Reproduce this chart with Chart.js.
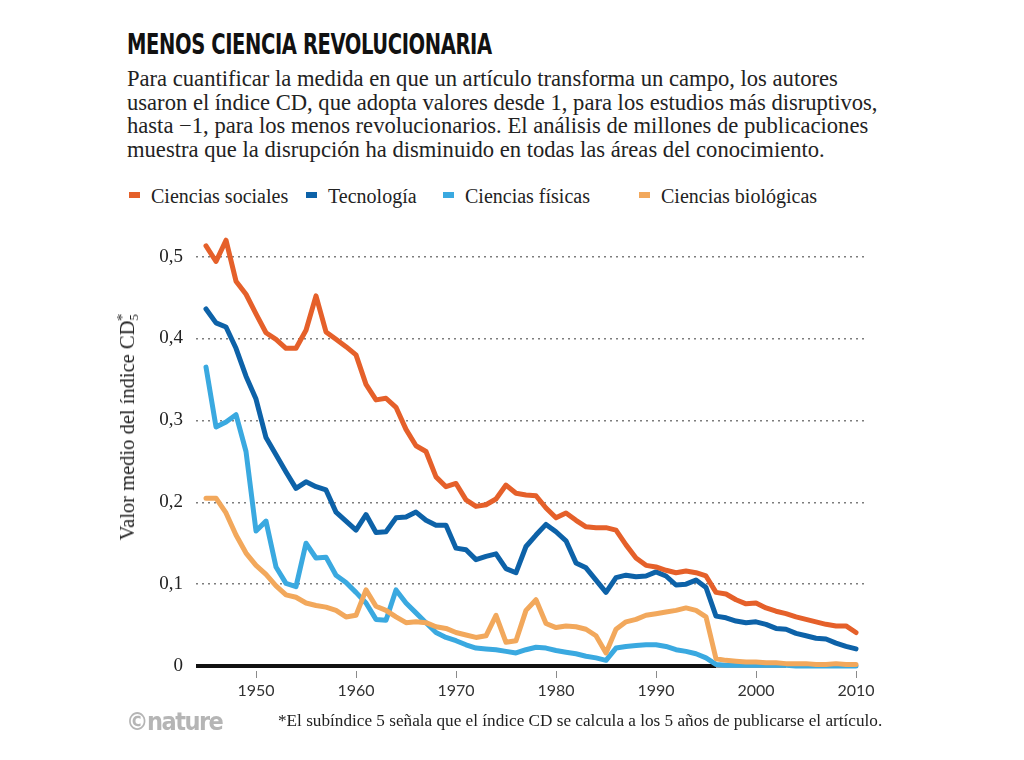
<!DOCTYPE html>
<html lang="es">
<head>
<meta charset="utf-8">
<script src="https://cdn.jsdelivr.net/npm/chart.js@4"></script>
<style>
  html, body { margin: 0; padding: 0; background: #fff; }
  body { width: 1024px; height: 760px; position: relative; overflow: hidden; }
  #chart { position: absolute; left: 0; top: 0; }
  .title {
    position: absolute; left: 127px; top: 28px;
    font-family: "DejaVu Sans Condensed", "DejaVu Sans", sans-serif;
    font-stretch: condensed; font-weight: bold; font-size: 28px; color: #111;
    letter-spacing: -0.5px; white-space: nowrap;
    transform: scaleX(0.775); transform-origin: 0 0;
  }
  .sub {
    position: absolute; left: 127px; top: 67px;
    font-family: "Liberation Serif", "DejaVu Serif", serif;
    font-size: 22.6px; line-height: 23.5px; color: #222; white-space: nowrap;
  }
  .legend {
    position: absolute; top: 185px; left: 0;
    font-family: "Liberation Serif", "DejaVu Serif", serif;
    font-size: 20px; color: #222;
  }
  .legend span.item { position: absolute; white-space: nowrap; }
  .legend i { display: inline-block; width: 11px; height: 6px; margin-right: 11px; vertical-align: 5px; }
  .ytitle {
    position: absolute; left: 128px; top: 427px;
    transform: translate(-50%, -50%) rotate(-90deg);
    font-family: "Liberation Serif", "DejaVu Serif", serif;
    font-size: 20.5px; color: #222; white-space: nowrap;
  }
  .ytitle sub { font-size: 13px; vertical-align: -4px; }
  .ytitle sup { font-size: 15px; vertical-align: 7px; margin-left: -7px; }
  .logo {
    position: absolute; left: 126px; top: 707px;
    font-family: "DejaVu Sans Condensed", "DejaVu Sans", sans-serif;
    font-stretch: condensed; font-weight: bold; font-size: 25px; color: #b5b5b5;
    letter-spacing: -1.5px;
  }
  .note {
    position: absolute; left: 278px; top: 711px;
    font-family: "Liberation Serif", "DejaVu Serif", serif;
    font-size: 17.2px; color: #222; white-space: nowrap;
  }
</style>
</head>
<body>
<div class="title">MENOS CIENCIA REVOLUCIONARIA</div>
<div class="sub">Para cuantificar la medida en que un artículo transforma un campo, los autores<br>usaron el índice CD, que adopta valores desde 1, para los estudios más disruptivos,<br>hasta −1, para los menos revolucionarios. El análisis de millones de publicaciones<br>muestra que la disrupción ha disminuido en todas las áreas del conocimiento.</div>
<div class="legend" id="legend"></div>
<canvas id="chart" width="1024" height="760"></canvas>
<div class="ytitle">Valor medio del índice CD<sub>5</sub><sup>*</sup></div>
<div class="logo">©nature</div>
<div class="note">*El subíndice 5 señala que el índice CD se calcula a los 5 años de publicarse el artículo.</div>

<script>
// años 1945–2010
const years = [];
for (let y = 1945; y <= 2010; y++) years.push(y);

const seriesNames = ['Ciencias sociales', 'Tecnología', 'Ciencias físicas', 'Ciencias biológicas'];
const seriesColors = ['#e5602a', '#0d62a8', '#3aa9e0', '#f2a85c'];

const sociales = [
  0.513, 0.494, 0.520, 0.470, 0.454,
  0.430, 0.407, 0.399, 0.388, 0.388,
  0.410, 0.452, 0.408, 0.399, 0.390,
  0.380, 0.344, 0.325, 0.327, 0.316,
  0.289, 0.269, 0.262, 0.231, 0.219,
  0.223, 0.203, 0.195, 0.197, 0.204,
  0.221, 0.211, 0.209, 0.208, 0.193,
  0.181, 0.187, 0.178, 0.170, 0.169,
  0.169, 0.166, 0.148, 0.132, 0.123,
  0.121, 0.117, 0.114, 0.116, 0.114,
  0.110, 0.090, 0.088, 0.081, 0.076,
  0.077, 0.071, 0.067, 0.064, 0.060,
  0.057, 0.054, 0.051, 0.049, 0.049,
  0.041
];
const tecnologia = [
  0.436, 0.419, 0.414, 0.388, 0.354,
  0.326, 0.279, 0.258, 0.237, 0.217,
  0.225, 0.219, 0.215, 0.188, 0.177,
  0.166, 0.185, 0.163, 0.164, 0.181,
  0.182, 0.188, 0.178, 0.172, 0.172,
  0.144, 0.142, 0.130, 0.134, 0.137,
  0.119, 0.114, 0.146, 0.160, 0.173,
  0.164, 0.153, 0.126, 0.120, 0.105,
  0.090, 0.108, 0.111, 0.109, 0.110,
  0.115, 0.110, 0.099, 0.100, 0.105,
  0.096, 0.061, 0.059, 0.055, 0.053,
  0.054, 0.051, 0.046, 0.045, 0.040,
  0.037, 0.034, 0.033, 0.028, 0.024,
  0.021
];
const fisicas = [
  0.365, 0.292, 0.298, 0.307, 0.262,
  0.165, 0.177, 0.121, 0.101, 0.097,
  0.150, 0.132, 0.133, 0.111, 0.102,
  0.090, 0.077, 0.057, 0.056, 0.093,
  0.077, 0.065, 0.053, 0.041, 0.035,
  0.031, 0.026, 0.022, 0.021, 0.020,
  0.018, 0.016, 0.020, 0.023, 0.022,
  0.019, 0.017, 0.015, 0.012, 0.010,
  0.007, 0.022, 0.024, 0.025, 0.026,
  0.026, 0.024, 0.020, 0.018, 0.015,
  0.010, 0.002, 0.001, 0.001, 0.001,
  0.001, 0.001, 0.001, 0.001, 0.000,
  0.000, 0.000, 0.000, 0.000, 0.000,
  0.000
];
const biologicas = [
  0.205, 0.205, 0.187, 0.160, 0.138,
  0.123, 0.112, 0.098, 0.087, 0.084,
  0.077, 0.074, 0.072, 0.068, 0.060,
  0.062, 0.093, 0.073, 0.068, 0.060,
  0.053, 0.054, 0.053, 0.048, 0.046,
  0.041, 0.038, 0.035, 0.037, 0.062,
  0.029, 0.031, 0.068, 0.081, 0.052,
  0.047, 0.049, 0.048, 0.045, 0.037,
  0.016, 0.045, 0.054, 0.057, 0.062,
  0.064, 0.066, 0.068, 0.071, 0.068,
  0.060, 0.009, 0.007, 0.006, 0.005,
  0.005, 0.004, 0.004, 0.003, 0.003,
  0.003, 0.002, 0.002, 0.003, 0.002,
  0.002
];

const xTicks = [1950, 1960, 1970, 1980, 1990, 2000, 2010];
const yTicks = [0, 0.1, 0.2, 0.3, 0.4, 0.5];
// línea del cero: tramo negro y tramo gris que se desvanece
const baseYearsDark = [1944, 1996];
const baseYearsFade = [1996, 2003];

// leyenda en HTML
const legendLeft = [129, 306, 443, 639];
const legendEl = document.getElementById('legend');
seriesNames.forEach((name, i) => {
  const item = document.createElement('span');
  item.className = 'item';
  item.style.left = legendLeft[i] + 'px';
  item.innerHTML = '<i style="background:' + seriesColors[i] + '"></i>' + name;
  legendEl.appendChild(item);
});

const toPoints = vals => vals.map((v, i) => ({ x: years[i], y: v }));
const serif = '"Liberation Serif", "DejaVu Serif", serif';

const lineStyle = color => ({
  borderColor: color,
  backgroundColor: color,
  borderWidth: 5,
  pointRadius: 0,
  tension: 0,
  borderJoinStyle: 'round',
  borderCapStyle: 'round',
  fill: false
});

new Chart(document.getElementById('chart'), {
  type: 'line',
  data: {
    datasets: [
      Object.assign({ label: seriesNames[0], data: toPoints(sociales) }, lineStyle(seriesColors[0])),
      Object.assign({ label: seriesNames[1], data: toPoints(tecnologia) }, lineStyle(seriesColors[1])),
      Object.assign({ label: seriesNames[3], data: toPoints(biologicas) }, lineStyle(seriesColors[3])),
      Object.assign({ label: seriesNames[2], data: toPoints(fisicas) }, lineStyle(seriesColors[2])),
      Object.assign({ label: 'base', data: baseYearsFade.map(x => ({ x: x, y: 0 })) }, lineStyle('#9a9a9a'), { borderWidth: 4, borderCapStyle: 'butt' }),
      Object.assign({ label: 'base', data: baseYearsDark.map(x => ({ x: x, y: 0 })) }, lineStyle('#111'), { borderWidth: 4, borderCapStyle: 'butt' })
    ]
  },
  options: {
    responsive: false,
    animation: false,
    clip: false,
    layout: { padding: { left: 118, right: 158, top: 232, bottom: 49 } },
    plugins: { legend: { display: false }, tooltip: { enabled: false } },
    scales: {
      x: {
        type: 'linear',
        min: 1944,
        max: 2011,
        afterBuildTicks: s => { s.ticks = xTicks.map(v => ({ value: v })); },
        afterFit: s => { s.height = 40; },
        grid: { drawOnChartArea: false, drawTicks: true, tickLength: 7, color: '#8a8a8a', lineWidth: 1 },
        border: { display: false },
        ticks: {
          color: '#333',
          padding: 3,
          maxRotation: 0,
          font: { family: 'Lato, "Noto Sans", sans-serif', size: 16 },
          callback: v => String(v)
        }
      },
      y: {
        min: -0.006,
        max: 0.53,
        afterBuildTicks: s => { s.ticks = yTicks.map(v => ({ value: v })); },
        afterFit: s => { s.width = 78; },
        grid: {
          drawTicks: false,
          color: c => (c.tick && c.tick.value === 0) ? 'rgba(0,0,0,0)' : '#7d7d7d',
          lineWidth: 1.5
        },
        border: { display: false, dash: [2, 4] },
        ticks: {
          color: '#222',
          padding: 13,
          font: { family: serif, size: 19 },
          callback: v => v === 0 ? '0' : v.toFixed(1).replace('.', ',')
        }
      }
    }
  }
});
</script>
</body>
</html>
